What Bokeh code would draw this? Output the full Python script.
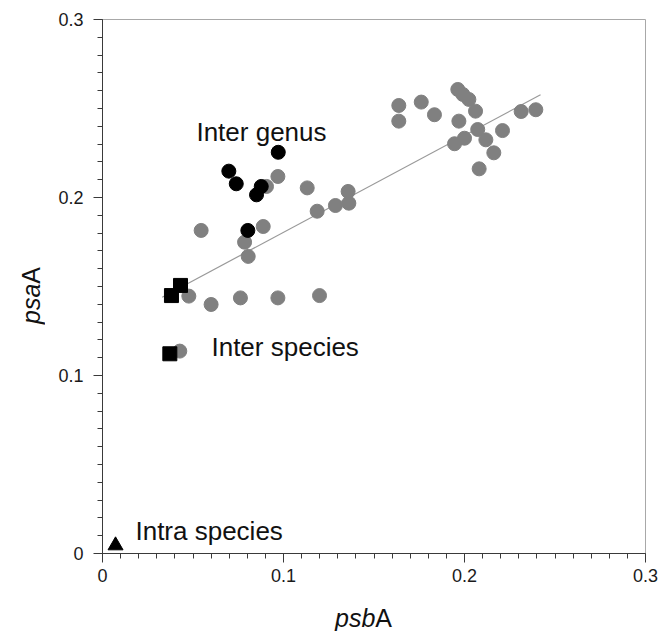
from bokeh.plotting import figure
from bokeh.models import Range1d, FixedTicker, ColumnDataSource, Div
from bokeh.layouts import row, column
from bokeh.embed import file_html
from bokeh.resources import INLINE
from bokeh.core.properties import value

# ---- data ----
gray_x = [0.0969, 0.0906, 0.1131, 0.1357, 0.1287, 0.1361, 0.1186, 0.0545, 0.0888,
          0.0785, 0.0805, 0.0477, 0.0600, 0.0762, 0.0969, 0.1199, 0.0427, 0.1637,
          0.1637, 0.1761, 0.1834, 0.1963, 0.1991, 0.2024, 0.2061, 0.1969, 0.2073,
          0.2210, 0.2000, 0.1945, 0.2118, 0.2162, 0.2081, 0.2313, 0.2394]
gray_y = [0.2118, 0.2062, 0.2054, 0.2034, 0.1955, 0.1968, 0.1923, 0.1815, 0.1837,
          0.1749, 0.1669, 0.1446, 0.1399, 0.1436, 0.1436, 0.1449, 0.1137, 0.2517,
          0.2429, 0.2536, 0.2465, 0.2607, 0.2579, 0.2551, 0.2485, 0.2429, 0.2382,
          0.2376, 0.2333, 0.2302, 0.2324, 0.2251, 0.2161, 0.2483, 0.2493]

genus_x = [0.0971, 0.0698, 0.0739, 0.0877, 0.0851, 0.0803]
genus_y = [0.2254, 0.2148, 0.2077, 0.2062, 0.2015, 0.1815]

species_x = [0.0431, 0.0381, 0.0372]
species_y = [0.1506, 0.1449, 0.1122]

intra_x = [0.0072]
intra_y = [0.0045]

trend_x = [0.033, 0.242]
trend_y = [0.144, 0.2577]

ann_text = ["Inter genus", "Inter species", "Intra species"]
ann_x = [0.0519, 0.0602, 0.0182]
ann_y = [0.2370, 0.1159, 0.0129]

tick_values = [0, 0.1, 0.2, 0.3]
tick_labels = ["0", "0.1", "0.2", "0.3"]
minor_values = [round(i * 0.01, 2) for i in range(31)]

x_title = ("psb", "A")
y_title = ("psa", "A")

FONT = "Liberation Sans"
YLAB_W = 55

p = figure(width=604, height=601, output_backend="svg", toolbar_location=None,
           x_range=Range1d(0, 0.3), y_range=Range1d(0, 0.3),
           min_border_left=47, min_border_right=14, min_border_top=19,
           min_border_bottom=48, margin=0)
p.grid.visible = False
p.background_fill_color = "white"
p.border_fill_color = "white"
p.outline_line_color = "#a8a8a8"
p.outline_line_width = 1

for ax in (p.xaxis, p.yaxis):
    ax.ticker = FixedTicker(ticks=tick_values, minor_ticks=minor_values)
    ax.major_label_overrides = {v: l for v, l in zip(tick_values, tick_labels)}
    ax.axis_line_color = "#3a3a3a"
    ax.major_tick_line_color = "#3a3a3a"
    ax.minor_tick_line_color = "#3a3a3a"
    ax.major_tick_out = 9
    ax.major_tick_in = 0
    ax.minor_tick_out = 5
    ax.minor_tick_in = 0
    ax.major_label_text_font = FONT
    ax.major_label_text_font_size = "18px"
    ax.major_label_text_color = "#1a1a1a"
p.xaxis.major_label_standoff = 6
p.yaxis.major_label_standoff = 10

p.line(trend_x, trend_y, line_color="#999999", line_width=1.2)
p.scatter(gray_x, gray_y, marker="circle", size=14, fill_color="#808080",
          line_color="#808080")
p.scatter(genus_x, genus_y, marker="circle", size=14, fill_color="black",
          line_color="black")
p.scatter(species_x, species_y, marker="square", size=14, fill_color="black",
          line_color="black")
p.scatter(intra_x, intra_y, marker="triangle", size=15, fill_color="black",
          line_color="black")

src = ColumnDataSource(dict(x=ann_x, y=ann_y, t=ann_text))
p.text(x="x", y="y", text="t", source=src, text_font=value(FONT),
       text_font_size="26px", text_color="#111111", text_baseline="alphabetic",
       text_align="left")

# axis titles (italic gene prefix + upright "A") as HTML text
xlab = Div(width=604, height=30, margin=0,
           text=(f'<div style="font-family:\'{FONT}\';font-size:25px;line-height:25px;'
                 f'padding-left:280px;padding-top:5px;color:#111;white-space:nowrap">'
                 f'<i>{x_title[0]}</i>{x_title[1]}</div>'))
ylab = Div(width=YLAB_W, height=631, margin=0,
           text=(f'<div style="writing-mode:vertical-rl;transform:rotate(180deg);'
                 f'font-family:\'{FONT}\';font-size:25px;line-height:30px;width:30px;'
                 f'height:60px;margin-left:16px;margin-top:264px;color:#111;'
                 f'white-space:nowrap"><i>{y_title[0]}</i>{y_title[1]}</div>'))

layout = row(ylab, column(p, xlab, spacing=0, margin=0), spacing=0, margin=0)

open("out.html", "w").write(file_html(layout, INLINE))
